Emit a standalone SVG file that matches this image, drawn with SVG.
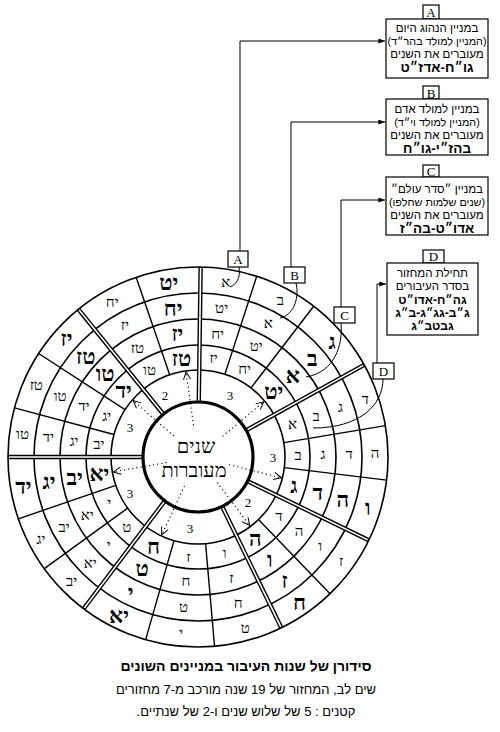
<svg xmlns="http://www.w3.org/2000/svg" width="500" height="732" viewBox="0 0 500 732">
<defs>
<style>
.ring{fill:none;stroke:#000;stroke-width:1.6}
.hub{fill:#fff;stroke:#000;stroke-width:3.2}
.col{stroke:#000;stroke-width:1.4}
.dbo{stroke:#000;stroke-width:4.4}
.dbi{stroke:#fff;stroke-width:1.6}
.dot{stroke:#000;stroke-width:1.1;stroke-dasharray:1.2 3;marker-end:url(#va)}
.c{font-family:"Liberation Serif","DejaVu Serif",serif;font-size:15px;text-anchor:middle;dominant-baseline:central;fill:#000}
.c.b{font-size:22px;font-weight:bold}
.n{font-family:"Liberation Serif",serif;font-size:13px;text-anchor:middle;dominant-baseline:central}
.hubt{font-family:"Liberation Serif",serif;font-size:20px;text-anchor:middle;direction:rtl}
.box{fill:#fff;stroke:#000;stroke-width:1.2}
.lab{font-family:"Liberation Serif",serif;font-size:13px;text-anchor:middle}
.bt{font-family:"Liberation Sans","DejaVu Sans",sans-serif;font-size:11.5px;text-anchor:middle;direction:rtl}
.bt.p{font-size:10.8px}
.bt.b{font-size:13.5px;font-weight:bold}
.bt.d{font-size:12px;font-weight:bold}
.conn{fill:none;stroke:#000;stroke-width:1}
.arr{marker-end:url(#ah)}
.tt{font-family:"Liberation Sans","DejaVu Sans",sans-serif;font-size:14px;font-weight:bold;text-anchor:middle;direction:rtl}
.st{font-family:"Liberation Sans","DejaVu Sans",sans-serif;font-size:13px;text-anchor:middle;direction:rtl}
</style>
<marker id="ah" viewBox="0 0 8 6" refX="8" refY="3" markerWidth="7" markerHeight="5" orient="auto" markerUnits="userSpaceOnUse"><path d="M0,0 L8,3 L0,6 z" fill="#000"/></marker>
<marker id="va" viewBox="0 0 10 10" refX="9.5" refY="5" markerWidth="9" markerHeight="9" orient="auto" markerUnits="userSpaceOnUse"><path d="M1,1 L9.5,5 L1,9" fill="none" stroke="#000" stroke-width="1.1" stroke-dasharray="none"/></marker>
</defs>
<rect width="500" height="732" fill="#fff"/>

<g id="wheel">
<circle class="ring" cx="198" cy="457" r="164"/>
<circle class="ring" cx="198" cy="457" r="138"/>
<circle class="ring" cx="198" cy="457" r="112"/>
<circle class="ring" cx="198" cy="457" r="87"/>
<g id="column-lines">
<line class="col" x1="198" y1="370" x2="198" y2="267" transform="rotate(18 198 457)"/>
<line class="col" x1="198" y1="370" x2="198" y2="267" transform="rotate(37.5 198 457)"/>
<line class="col" x1="198" y1="370" x2="198" y2="267" transform="rotate(80.5 198 457)"/>
<line class="col" x1="198" y1="370" x2="198" y2="267" transform="rotate(97 198 457)"/>
<line class="col" x1="198" y1="370" x2="198" y2="267" transform="rotate(136 198 457)"/>
<line class="col" x1="198" y1="370" x2="198" y2="267" transform="rotate(175 198 457)"/>
<line class="col" x1="198" y1="370" x2="198" y2="267" transform="rotate(196 198 457)"/>
<line class="col" x1="198" y1="370" x2="198" y2="267" transform="rotate(234 198 457)"/>
<line class="col" x1="198" y1="370" x2="198" y2="267" transform="rotate(251 198 457)"/>
<line class="col" x1="198" y1="370" x2="198" y2="267" transform="rotate(285 198 457)"/>
<line class="col" x1="198" y1="370" x2="198" y2="267" transform="rotate(303 198 457)"/>
<line class="col" x1="198" y1="370" x2="198" y2="267" transform="rotate(341 198 457)"/>
</g>
<g id="cycle-dividers">
<g transform="rotate(0.8 198 457)"><line class="dbo" x1="198" y1="402" x2="198" y2="267"/><line class="dbi" x1="198" y1="402" x2="198" y2="268"/></g>
<g transform="rotate(61 198 457)"><line class="dbo" x1="198" y1="402" x2="198" y2="267"/><line class="dbi" x1="198" y1="402" x2="198" y2="268"/></g>
<g transform="rotate(116 198 457)"><line class="dbo" x1="198" y1="402" x2="198" y2="267"/><line class="dbi" x1="198" y1="402" x2="198" y2="268"/></g>
<g transform="rotate(154 198 457)"><line class="dbo" x1="198" y1="402" x2="198" y2="267"/><line class="dbi" x1="198" y1="402" x2="198" y2="268"/></g>
<g transform="rotate(217 198 457)"><line class="dbo" x1="198" y1="402" x2="198" y2="267"/><line class="dbi" x1="198" y1="402" x2="198" y2="268"/></g>
<g transform="rotate(270 198 457)"><line class="dbo" x1="198" y1="402" x2="198" y2="267"/><line class="dbi" x1="198" y1="402" x2="198" y2="268"/></g>
<g transform="rotate(321 198 457)"><line class="dbo" x1="198" y1="402" x2="198" y2="267"/><line class="dbi" x1="198" y1="402" x2="198" y2="268"/></g>
</g>
<circle class="ring" cx="198" cy="457" r="190"/>
<circle class="hub" cx="198" cy="457" r="55"/>
<g id="pointers">
<line class="dot" x1="198" y1="425" x2="198" y2="371" transform="rotate(50 198 457)"/>
<line class="dot" x1="198" y1="425" x2="198" y2="371" transform="rotate(104 198 457)"/>
<line class="dot" x1="198" y1="425" x2="198" y2="371" transform="rotate(143 198 457)"/>
<line class="dot" x1="198" y1="425" x2="198" y2="371" transform="rotate(205 198 457)"/>
<line class="dot" x1="198" y1="425" x2="198" y2="371" transform="rotate(260 198 457)"/>
<line class="dot" x1="198" y1="425" x2="198" y2="371" transform="rotate(311 198 457)"/>
<line class="dot" x1="198" y1="425" x2="198" y2="371" transform="rotate(352 198 457)"/>
</g>
<g id="cycle-lengths">
<text class="n" x="230" y="395">3</text>
<text class="n" x="273" y="457">3</text>
<text class="n" x="248" y="502">2</text>
<text class="n" x="190" y="528">3</text>
<text class="n" x="130" y="493">3</text>
<text class="n" x="130" y="427">3</text>
<text class="n" x="165" y="395">2</text>
</g>
<g id="ring-A">
<text class="c" x="225.7" y="282.2">א</text>
<text class="c" x="280.4" y="300.4">ב</text>
<text class="c b" x="332.1" y="341.5">ג</text>
<text class="c" x="365.1" y="398.6">ד</text>
<text class="c" x="375" y="453.1">ה</text>
<text class="c b" x="367.7" y="507.3">ו</text>
<text class="c" x="341.2" y="561">ז</text>
<text class="c b" x="299.5" y="602">ח</text>
<text class="c" x="245.3" y="627.6">ט</text>
<text class="c" x="181" y="633.2">י</text>
<text class="c b" x="119" y="615.4">יא</text>
<text class="c" x="71.7" y="581.1">יב</text>
<text class="c" x="41" y="538.7">יג</text>
<text class="c b" x="23.4" y="486.2">יד</text>
<text class="c" x="22.5" y="433.9">טו</text>
<text class="c" x="36.3" y="385">טז</text>
<text class="c b" x="66.5" y="338.6">יז</text>
<text class="c" x="112.2" y="302.2">יח</text>
<text class="c b" x="168.8" y="282.4">יט</text>
</g>
<g id="ring-B">
<text class="c" x="221.6" y="307.9">יט</text>
<text class="c" x="268.3" y="323.4">א</text>
<text class="c b" x="312.4" y="358.4">ב</text>
<text class="c" x="340.6" y="407.2">ג</text>
<text class="c" x="349" y="453.7">ד</text>
<text class="c b" x="342.8" y="499.9">ה</text>
<text class="c" x="320.2" y="545.8">ו</text>
<text class="c b" x="284.6" y="580.7">ז</text>
<text class="c" x="238.3" y="602.5">ח</text>
<text class="c" x="183.5" y="607.3">ט</text>
<text class="c b" x="130.6" y="592.1">י</text>
<text class="c" x="90.3" y="562.8">יא</text>
<text class="c" x="64.1" y="526.7">יב</text>
<text class="c b" x="49.1" y="481.9">יג</text>
<text class="c" x="48.3" y="437.3">יד</text>
<text class="c" x="60.1" y="395.6">טו</text>
<text class="c b" x="85.8" y="356">טז</text>
<text class="c" x="124.8" y="324.9">יז</text>
<text class="c b" x="173.1" y="308.1">יח</text>
</g>
<g id="ring-C">
<text class="c" x="217.6" y="333.5">יח</text>
<text class="c" x="256.2" y="346.4">יט</text>
<text class="c b" x="292.7" y="375.4">א</text>
<text class="c" x="316" y="415.8">ב</text>
<text class="c" x="323" y="454.3">ג</text>
<text class="c b" x="317.9" y="492.5">ד</text>
<text class="c" x="299.1" y="530.5">ה</text>
<text class="c b" x="269.7" y="559.4">ו</text>
<text class="c" x="231.4" y="577.5">ז</text>
<text class="c" x="186" y="581.4">ח</text>
<text class="c b" x="142.2" y="568.9">ט</text>
<text class="c" x="108.8" y="544.6">י</text>
<text class="c" x="87.1" y="514.7">יא</text>
<text class="c b" x="74.7" y="477.6">יב</text>
<text class="c" x="74.1" y="440.7">יג</text>
<text class="c" x="83.8" y="406.2">יד</text>
<text class="c b" x="105.1" y="373.4">טו</text>
<text class="c" x="137.4" y="347.7">טז</text>
<text class="c b" x="177.4" y="333.7">יז</text>
</g>
<g id="ring-D">
<text class="c" x="213.6" y="358.2">יז</text>
<text class="c" x="244.6" y="368.5">יח</text>
<text class="c b" x="273.8" y="391.7">יט</text>
<text class="c" x="292.4" y="424">א</text>
<text class="c" x="298" y="454.8">ב</text>
<text class="c b" x="293.9" y="485.4">ג</text>
<text class="c" x="278.9" y="515.8">ד</text>
<text class="c b" x="255.4" y="538.9">ה</text>
<text class="c" x="224.7" y="553.4">ו</text>
<text class="c" x="188.4" y="556.5">ז</text>
<text class="c b" x="153.4" y="546.5">ח</text>
<text class="c" x="126.7" y="527.1">ט</text>
<text class="c" x="109.3" y="503.2">י</text>
<text class="c b" x="99.4" y="473.5">יא</text>
<text class="c" x="98.9" y="444">יב</text>
<text class="c" x="106.7" y="416.3">יג</text>
<text class="c b" x="123.7" y="390.1">יד</text>
<text class="c" x="149.5" y="369.5">טו</text>
<text class="c b" x="181.5" y="358.4">טז</text>
</g>
<g id="hub-label">
<text class="hubt" x="196" y="453">שנים</text>
<text class="hubt" x="194" y="477">מעוברות</text>
</g>
</g>

<g id="connectors">
<polyline class="conn arr" points="240,251 240,41 385,41"/>
<polyline class="conn arr" points="291,267 291,122 385,122"/>
<polyline class="conn arr" points="341,307 341,200 385,200"/>
<polyline class="conn arr" points="377,363 377,284 386,284"/>
<path class="conn" d="M239,267 C241,278 236,285 230,287"/>
<path class="conn" d="M296,283 C300,300 292,316 280,318"/>
<path class="conn" d="M341,323 C343,345 335,372 306,377"/>
<path class="conn" d="M383,379 C383,405 360,428 313,428"/>
</g>

<g id="tag-A"><rect class="box" x="228" y="251" width="20" height="16"/><text class="lab" x="238" y="264">A</text></g>
<g id="tag-B"><rect class="box" x="284" y="267" width="21" height="16"/><text class="lab" x="294.5" y="280">B</text></g>
<g id="tag-C"><rect class="box" x="334" y="307" width="21" height="16"/><text class="lab" x="344.5" y="320">C</text></g>
<g id="tag-D"><rect class="box" x="373" y="363" width="21" height="16"/><text class="lab" x="383.5" y="376">D</text></g>

<g id="box-A">
<rect class="box" x="423" y="5" width="16" height="14"/><text class="lab" x="431" y="17">A</text>
<rect class="box" x="386" y="19" width="102" height="59"/>
<text class="bt" x="437" y="32">במניין הנהוג היום</text>
<text class="bt p" x="437" y="45">(המניין למולד בהר״ד)</text>
<text class="bt" x="437" y="58">מעוברים את השנים</text>
<text class="bt b" x="437" y="72">גו״ח-אדז״ט</text>
</g>
<g id="box-B">
<rect class="box" x="423" y="86" width="16" height="13"/><text class="lab" x="431" y="97.5">B</text>
<rect class="box" x="386" y="99" width="102" height="56"/>
<text class="bt" x="437" y="113">במניין למולד אדם</text>
<text class="bt p" x="437" y="126">(המניין למולד וי״ד)</text>
<text class="bt" x="437" y="139">מעוברים את השנים</text>
<text class="bt b" x="437" y="152.5">בהז״י-גו״ח</text>
</g>
<g id="box-C">
<rect class="box" x="423" y="165" width="16" height="12"/><text class="lab" x="431" y="175.5">C</text>
<rect class="box" x="386" y="177" width="102" height="58"/>
<text class="bt" x="437" y="193">במניין ״סדר עולם״</text>
<text class="bt p" x="437" y="206">(שנים שלמות שחלפו)</text>
<text class="bt" x="437" y="219">מעוברים את השנים</text>
<text class="bt b" x="437" y="232.5">אדו״ט-בה״ז</text>
</g>
<g id="box-D">
<rect class="box" x="423" y="250" width="21" height="13"/><text class="lab" x="433.5" y="261">D</text>
<rect class="box" x="387" y="263" width="91" height="72"/>
<text class="bt" x="432.5" y="277">תחילת המחזור</text>
<text class="bt" x="432.5" y="290">בסדר העיבורים</text>
<text class="bt d" x="432.5" y="304">גה״ח-אדו״ט</text>
<text class="bt d" x="432.5" y="317">ג״ב-גג״ג-ב״ג</text>
<text class="bt d" x="432.5" y="330">גבטב״ג</text>
</g>

<g id="caption">
<text class="tt" x="246" y="671">סידורן של שנות העיבור במניינים השונים</text>
<text class="st" x="246" y="694">שים לב, המחזור של 19 שנה מורכב מ-7 מחזורים</text>
<text class="st" x="246" y="716">קטנים : 5 של שלוש שנים ו-2 של שנתיים.</text>
</g>
</svg>
